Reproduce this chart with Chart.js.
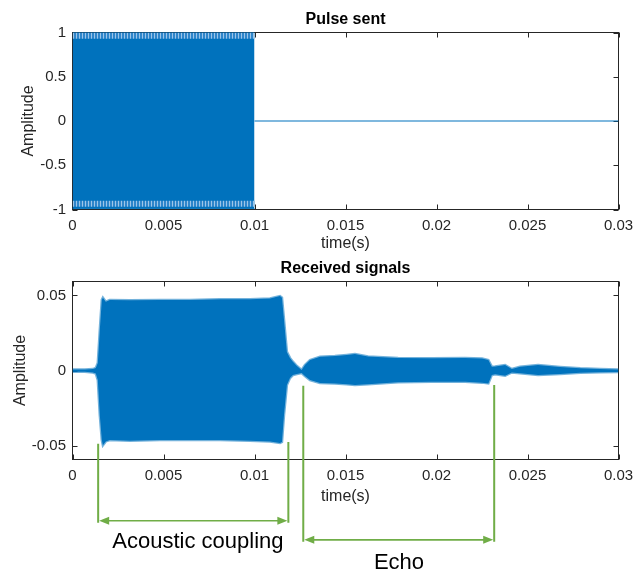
<!DOCTYPE html>
<html><head><meta charset="utf-8">
<script src="https://cdn.jsdelivr.net/npm/chart.js@4/dist/chart.umd.min.js"></script>
<style>
html,body{margin:0;padding:0;background:#fff;width:635px;height:572px;overflow:hidden;}
#c1{position:absolute;left:0;top:0;}
#c2{position:absolute;left:0;top:250px;}
</style></head><body>
<canvas id="c1" width="635" height="262"></canvas>
<canvas id="c2" width="635" height="322"></canvas>
<script>
// ---------- data ----------
const xTicks = [0, 0.005, 0.01, 0.015, 0.02, 0.025, 0.03];
const xTickLabels = ['0', '0.005', '0.01', '0.015', '0.02', '0.025', '0.03'];
const yTicksTop = [-1, -0.5, 0, 0.5, 1];
const yTickLabelsTop = ['-1', '-0.5', '0', '0.5', '1'];
const yTicksBottom = [-0.05, 0, 0.05];
const yTickLabelsBottom = ['-0.05', '0', '0.05'];

// Pulse sent: envelope of the dense carrier (0..0.01 s), then flat zero
const pulseTime = [0, 0.01];
const pulseUpper = [1, 1];
const pulseLower = [-0.99, -0.99];
const stripeTopOuter = [1, 1];
const stripeTopInner = [0.93, 0.93];
const stripeBotInner = [-0.90, -0.90];
const stripeBotOuter = [-0.97, -0.97];
const restTime = [0.01, 0.03];
const restValue = [0, 0];

// Received signals: upper / lower envelope
const recvTime = [0, 0.00068, 0.00112, 0.00128, 0.00139, 0.0015, 0.00161, 0.00167, 0.00183, 0.00205,
  0.00315, 0.0048, 0.00645, 0.0081, 0.00975, 0.01085, 0.0114, 0.01151, 0.01162, 0.01178,
  0.01195, 0.01211, 0.01233, 0.01259, 0.01277, 0.01305, 0.0136, 0.01442, 0.01507, 0.01552,
  0.01624, 0.01789, 0.01974, 0.02157, 0.0225, 0.02285, 0.02304, 0.02322, 0.02377, 0.02414,
  0.02459, 0.02558, 0.02679, 0.0279, 0.02899, 0.03];
const recvUpper = [0.0008, 0.0008, 0.0011, 0.0018, 0.0051, 0.027, 0.047, 0.0485, 0.0458, 0.047,
  0.0468, 0.047, 0.047, 0.0475, 0.0475, 0.048, 0.0495, 0.0485, 0.034, 0.0125,
  0.0085, 0.006, 0.0031, 0.0005, 0.0038, 0.0071, 0.0093, 0.0098, 0.0105, 0.0111,
  0.0095, 0.0085, 0.0083, 0.0085, 0.0081, 0.0071, 0.0027, 0.0028, 0.0038, 0.0011,
  0.0027, 0.0038, 0.0025, 0.0016, 0.0011, 0.0008];
const recvLower = [-0.0007, -0.0007, -0.0012, -0.0019, -0.0062, -0.0295, -0.046, -0.0495, -0.0469, -0.046,
  -0.0465, -0.046, -0.046, -0.046, -0.0465, -0.047, -0.048, -0.0473, -0.0295, -0.0095,
  -0.0049, -0.0029, -0.0022, -0.0015, -0.0035, -0.0062, -0.0082, -0.0085, -0.0089, -0.0095,
  -0.009, -0.0077, -0.0073, -0.0073, -0.0079, -0.0084, -0.0029, -0.0024, -0.0033, -0.0011,
  -0.0017, -0.0029, -0.0022, -0.0013, -0.001, -0.0009];

// Annotation brackets (time in s, amplitude units of the lower plot)
const bracketLabels = ['Acoustic coupling', 'Echo'];
const bracketStart = [0.00141, 0.01268];
const bracketEnd = [0.01186, 0.02317];
const bracketTopStart = [-0.0485, -0.010];
const bracketTopEnd = [-0.0473, -0.0095];
const bracketArrowY = [-0.0995, -0.1122];
const bracketLabelX = [0.00689, 0.01794];
const bracketLabelY = [-0.1175, -0.1315];

// ---------- styling ----------
const FONT = "'Liberation Sans', Arial, Helvetica, sans-serif";
const BLUE = '#0072BD';
const AXIS = '#262626';
const GREEN = '#70AD47';
Chart.defaults.font.family = FONT;

const pts = (xs, ys) => xs.map((x, i) => ({x: x, y: ys[i]}));

function makeStripes() {
  const c = document.createElement('canvas');
  c.width = 3; c.height = 1;
  const g = c.getContext('2d');
  g.fillStyle = '#2f86cb'; g.fillRect(0, 0, 3, 1);
  g.fillStyle = '#9cc5e8'; g.fillRect(1, 0, 1, 1);
  return g.createPattern(c, 'repeat');
}
const stripes = makeStripes();

const boxPlugin = {
  id: 'matlabBox',
  beforeDatasetsDraw(chart) {
    const {ctx, chartArea: a, scales: {x, y}} = chart;
    ctx.save();
    ctx.strokeStyle = AXIS;
    ctx.lineWidth = 1;
    ctx.strokeRect(a.left, a.top, a.right - a.left, a.bottom - a.top);
    const tl = 5;
    ctx.beginPath();
    x.ticks.forEach(t => {
      const px = Math.round(x.getPixelForValue(t.value)) + 0.5;
      ctx.moveTo(px, a.bottom); ctx.lineTo(px, a.bottom - tl);
      ctx.moveTo(px, a.top); ctx.lineTo(px, a.top + tl);
    });
    y.ticks.forEach(t => {
      const py = Math.round(y.getPixelForValue(t.value)) + 0.5;
      ctx.moveTo(a.left, py); ctx.lineTo(a.left + tl, py);
      ctx.moveTo(a.right, py); ctx.lineTo(a.right - tl, py);
    });
    ctx.stroke();
    ctx.restore();
  },
  afterDraw(chart) {
    const {ctx, chartArea: a} = chart;
    const txt = chart.options.plugins.matlabBox.title;
    ctx.save();
    ctx.fillStyle = '#000';
    ctx.font = 'bold 16px ' + FONT;
    ctx.textAlign = 'center';
    ctx.textBaseline = 'middle';
    ctx.fillText(txt, (a.left + a.right) / 2, a.top - 12.5);
    ctx.restore();
  }
};

const bracketPlugin = {
  id: 'brackets',
  afterDraw(chart) {
    const {ctx, scales: {x, y}} = chart;
    ctx.save();
    bracketLabels.forEach((label, i) => {
      const x0 = x.getPixelForValue(bracketStart[i]);
      const x1 = x.getPixelForValue(bracketEnd[i]);
      const ya = y.getPixelForValue(bracketArrowY[i]);
      ctx.strokeStyle = GREEN;
      ctx.fillStyle = GREEN;
      ctx.lineWidth = 2;
      ctx.beginPath();
      ctx.moveTo(x0, y.getPixelForValue(bracketTopStart[i])); ctx.lineTo(x0, ya + 2);
      ctx.moveTo(x1, y.getPixelForValue(bracketTopEnd[i])); ctx.lineTo(x1, ya + 2);
      ctx.stroke();
      ctx.beginPath();
      ctx.lineWidth = 1.6;
      ctx.moveTo(x0 + 8, ya); ctx.lineTo(x1 - 8, ya);
      ctx.stroke();
      ctx.beginPath();
      ctx.moveTo(x0 + 1, ya); ctx.lineTo(x0 + 11, ya - 4); ctx.lineTo(x0 + 11, ya + 4); ctx.closePath();
      ctx.moveTo(x1 - 1, ya); ctx.lineTo(x1 - 11, ya - 4); ctx.lineTo(x1 - 11, ya + 4); ctx.closePath();
      ctx.fill();
      ctx.fillStyle = '#000';
      ctx.font = '22px ' + FONT;
      ctx.textAlign = 'center';
      ctx.textBaseline = 'alphabetic';
      ctx.fillText(label, x.getPixelForValue(bracketLabelX[i]), y.getPixelForValue(bracketLabelY[i]));
    });
    ctx.restore();
  }
};

function xScale(axisHeight, titlePadBottom) {
  return {
    type: 'linear', min: 0, max: 0.03,
    afterBuildTicks: s => { s.ticks = xTicks.map(v => ({value: v})); },
    afterFit: s => { s.height = axisHeight; s.paddingLeft = 0; s.paddingRight = 0; },
    ticks: {
      callback: (v, i) => xTickLabels[i],
      font: {size: 15}, color: AXIS, padding: 7.5, maxRotation: 0, autoSkip: false
    },
    grid: {drawOnChartArea: false, drawTicks: false},
    border: {display: false},
    title: {display: true, text: 'time(s)', font: {size: 16}, color: AXIS,
      padding: {top: 0, bottom: titlePadBottom}}
  };
}
function yScale(min, max, ticks, labels, titlePad) {
  return {
    type: 'linear', min: min, max: max,
    afterBuildTicks: s => { s.ticks = ticks.map(v => ({value: v})); },
    afterFit: s => { s.width = 72.5; s.paddingTop = 0; s.paddingBottom = 0; },
    ticks: {
      callback: (v, i) => labels[i],
      font: {size: 15}, color: AXIS, padding: 6.5, autoSkip: false
    },
    grid: {drawOnChartArea: false, drawTicks: false},
    border: {display: false},
    title: {display: true, text: 'Amplitude', font: {size: 16}, color: AXIS,
      padding: {top: titlePad, bottom: 0}}
  };
}

const lineDs = (data, extra) => Object.assign({
  data: data, showLine: true, pointRadius: 0, borderColor: BLUE, backgroundColor: BLUE,
  borderWidth: 1, fill: false, tension: 0
}, extra || {});

// ---------- top chart ----------
// (Chart.js paints datasets last-to-first, so the aliasing bands come first to end up on top)
new Chart(document.getElementById('c1'), {
  type: 'scatter',
  data: {
    datasets: [
      lineDs(pts(pulseTime, stripeTopOuter), {fill: '+1', backgroundColor: stripes, borderWidth: 0}),
      lineDs(pts(pulseTime, stripeTopInner), {borderWidth: 0}),
      lineDs(pts(pulseTime, stripeBotInner), {fill: '+1', backgroundColor: stripes, borderWidth: 0}),
      lineDs(pts(pulseTime, stripeBotOuter), {borderWidth: 0}),
      lineDs(pts(pulseTime, pulseUpper), {fill: '+1'}),
      lineDs(pts(pulseTime, pulseLower)),
      lineDs(pts(restTime, restValue), {borderWidth: 1.2})
    ]
  },
  options: {
    responsive: false, animation: false, devicePixelRatio: 1,
    layout: {padding: {left: 0, right: 16.5, top: 32.5, bottom: 0}},
    plugins: {legend: {display: false}, tooltip: {enabled: false}, title: {display: false},
      matlabBox: {title: 'Pulse sent'}},
    scales: {
      x: xScale(52.5, 8.4),
      y: yScale(-1, 1, yTicksTop, yTickLabelsTop, 19.4)
    }
  },
  plugins: [boxPlugin]
});

// ---------- bottom chart ----------
new Chart(document.getElementById('c2'), {
  type: 'scatter',
  data: {
    datasets: [
      lineDs(pts(recvTime, recvUpper), {fill: '+1', borderColor: 'rgba(0,114,189,0.55)', borderWidth: 2.5}),
      lineDs(pts(recvTime, recvLower), {borderColor: 'rgba(0,114,189,0.55)', borderWidth: 2.5})
    ]
  },
  options: {
    responsive: false, animation: false, devicePixelRatio: 1,
    layout: {padding: {left: 0, right: 16.5, top: 31.5, bottom: 0}},
    plugins: {legend: {display: false}, tooltip: {enabled: false}, title: {display: false},
      matlabBox: {title: 'Received signals'}},
    scales: {
      x: xScale(112.5, 65.4),
      y: yScale(-0.0589, 0.0592, yTicksBottom, yTickLabelsBottom, 11.4)
    }
  },
  plugins: [boxPlugin, bracketPlugin]
});
</script>
</body></html>
